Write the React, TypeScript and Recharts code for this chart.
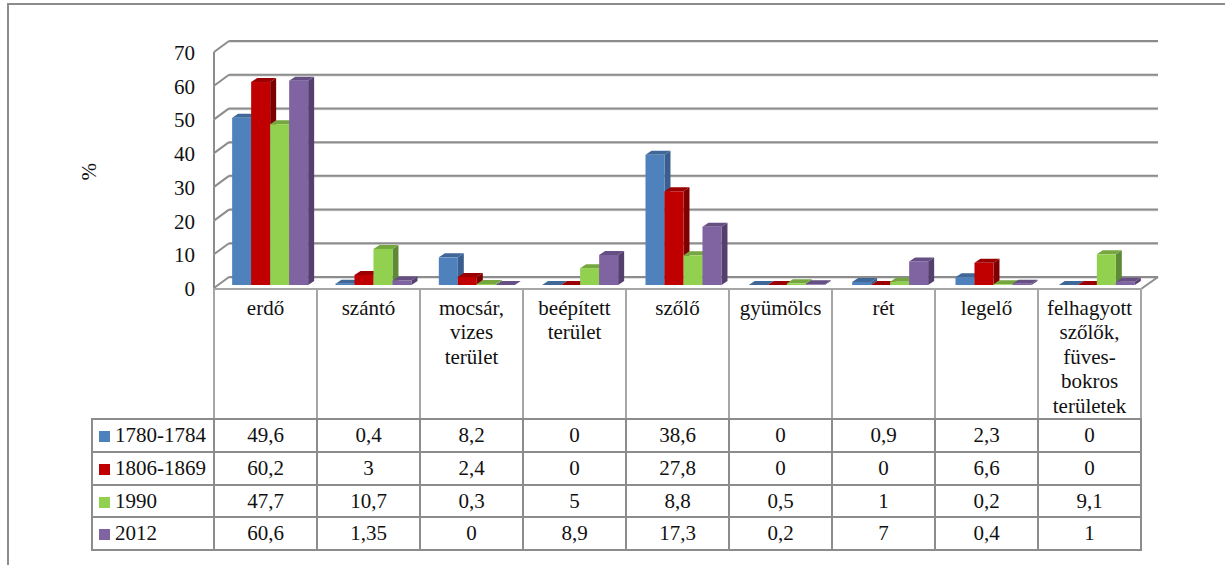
import { BarChart, Bar, XAxis, YAxis, CartesianGrid } from 'recharts';

const FONT = '"Liberation Serif", "Times New Roman", serif';
const GRID_COLOR = '#8c8c8c';
const TEXT_COLOR = '#111';

const categories = [
  'erdő',
  'szántó',
  'mocsár,\nvizes\nterület',
  'beépített\nterület',
  'szőlő',
  'gyümölcs',
  'rét',
  'legelő',
  'felhagyott\nszőlők,\nfüves-\nbokros\nterületek',
];

const seriesNames = ['1780-1784', '1806-1869', '1990', '2012'];

const values1780 = [49.6, 0.4, 8.2, 0, 38.6, 0, 0.9, 2.3, 0];
const values1806 = [60.2, 3, 2.4, 0, 27.8, 0, 0, 6.6, 0];
const values1990 = [47.7, 10.7, 0.3, 5, 8.8, 0.5, 1, 0.2, 9.1];
const values2012 = [60.6, 1.35, 0, 8.9, 17.3, 0.2, 7, 0.4, 1];

const yTicks = [0, 10, 20, 30, 40, 50, 60, 70];

const seriesValues = [values1780, values1806, values1990, values2012];

const seriesColors = [
  { front: '#4f81bd', top: '#3f6797', side: '#3a5f8e' },
  { front: '#c00000', top: '#9a0000', side: '#7c0000' },
  { front: '#92d050', top: '#75a640', side: '#5f8a35' },
  { front: '#8064a2', top: '#664f82', side: '#543f6e' },
];

const data = categories.map((name, i) => ({
  name,
  s0: values1780[i],
  s1: values1806[i],
  s2: values1990[i],
  s3: values2012[i],
}));

const DEPTH_X = 6;
const DEPTH_Y = 4;
const PLOT_TOP = 49;
const PLOT_BOTTOM = 285;
const GRID_STEP = (PLOT_BOTTOM - PLOT_TOP) / 7;

function bar3d(colors: { front: string; top: string; side: string }) {
  return (props: any) => {
    const { x, y, width, height } = props;
    const h = Math.max(height, 0);
    return (
      <g>
        <polygon
          points={`${x + width},${y} ${x + width + DEPTH_X},${y - DEPTH_Y} ${x + width + DEPTH_X},${y + h - DEPTH_Y} ${x + width},${y + h}`}
          fill={colors.side}
        />
        <polygon
          points={`${x},${y} ${x + DEPTH_X},${y - DEPTH_Y} ${x + width + DEPTH_X},${y - DEPTH_Y} ${x + width},${y}`}
          fill={colors.top}
        />
        <rect x={x} y={y} width={width} height={h} fill={colors.front} />
      </g>
    );
  };
}

// back wall line, floor/wall diagonal and the front axis piece for one tick
function gridLine(props: any) {
  const { x1, x2, y1 } = props;
  const isFloor = y1 >= PLOT_BOTTOM - 1;
  const line = { stroke: GRID_COLOR, strokeWidth: 2, fill: 'none' };
  return (
    <g key={`grid-${y1}`}>
      <line x1={x1 + 11} y1={y1 - 7} x2={x2 + 10} y2={y1 - 7} stroke="#d8d8d8" strokeWidth={1.5} />
      <line x1={x1 + 11} y1={y1 - 8} x2={x2 + 10} y2={y1 - 8} {...line} />
      <line x1={x1 - 4} y1={y1 + 3} x2={x1 + 11} y2={y1 - 8} {...line} />
      {!isFloor && <line x1={x1 - 4} y1={y1 + 3} x2={x1 - 4} y2={y1 + 3 + GRID_STEP} {...line} />}
      {isFloor && <line x1={x2 - 7} y1={y1 + 4} x2={x2 + 10} y2={y1 - 8} {...line} />}
    </g>
  );
}

function yTick(props: any) {
  return (
    <text
      x={props.x}
      y={props.y + 11}
      textAnchor="end"
      fontFamily={FONT}
      fontSize={21}
      fill={TEXT_COLOR}
    >
      {props.payload.value}
    </text>
  );
}

const fmt = (v: number) => String(v).replace('.', ',');

function DataTable() {
  const thin = '2px solid #a6a6a6';
  const thick = `2px solid ${GRID_COLOR}`;
  const cell = {
    border: thick,
    padding: 0,
    textAlign: 'center' as const,
    height: 32.75,
    boxSizing: 'border-box' as const,
  };
  return (
    <table
      style={{
        position: 'absolute',
        left: 91,
        top: 288,
        width: 1049,
        tableLayout: 'fixed',
        borderCollapse: 'collapse',
        fontFamily: FONT,
        fontSize: 21,
        lineHeight: '24.4px',
        color: TEXT_COLOR,
      }}
    >
      <colgroup>
        <col style={{ width: 122 }} />
        {categories.map((c) => (
          <col key={c} style={{ width: 103 }} />
        ))}
      </colgroup>
      <tbody>
        <tr style={{ height: 128 }}>
          <td style={{ padding: 0, borderBottom: thick }} />
          {categories.map((c) => (
            <td
              key={c}
              style={{
                borderLeft: thin,
                borderRight: thin,
                borderTop: thin,
                borderBottom: thick,
                padding: '6px 0 0',
                verticalAlign: 'top',
                textAlign: 'center',
                whiteSpace: 'pre-line',
                boxSizing: 'border-box',
              }}
            >
              {c}
            </td>
          ))}
        </tr>
        {seriesNames.map((name, s) => (
          <tr key={name} style={{ height: 32.75 }}>
            <td style={{ ...cell, textAlign: 'left', paddingLeft: 6, whiteSpace: 'nowrap' }}>
              <span
                style={{
                  display: 'inline-block',
                  width: 11,
                  height: 11,
                  marginRight: 5,
                  background: seriesColors[s].front,
                }}
              />
              {name}
            </td>
            {seriesValues[s].map((v, i) => (
              <td key={i} style={cell}>
                {fmt(v)}
              </td>
            ))}
          </tr>
        ))}
      </tbody>
    </table>
  );
}

export default function App() {
  return (
    <div style={{ position: 'fixed', left: 0, top: 0, width: 1225, height: 565, overflow: 'hidden', background: '#fff' }}>
      <div
        style={{
          position: 'absolute',
          left: 7,
          top: 3,
          width: 1240,
          height: 600,
          borderLeft: `2px solid ${GRID_COLOR}`,
          borderTop: `2px solid ${GRID_COLOR}`,
        }}
      />
      <BarChart
        width={1225}
        height={565}
        data={data}
        barGap={0}
        barCategoryGap={14.15}
        margin={{ top: PLOT_TOP, right: 77, bottom: 565 - PLOT_BOTTOM, left: 158 }}
        style={{ position: 'absolute', left: 0, top: 0 }}
      >
        <CartesianGrid vertical={false} horizontal={gridLine} />
        <XAxis dataKey="name" hide />
        <YAxis
          width={60}
          domain={[0, 70]}
          ticks={yTicks}
          axisLine={false}
          tickLine={false}
          tickSize={0}
          tickMargin={23}
          tick={yTick}
          label={{
            value: '%',
            angle: -90,
            position: 'left',
            dx: -64,
            dy: -4,
            style: { fontFamily: FONT, fontSize: 21, fill: TEXT_COLOR },
          }}
        />
        {seriesNames.map((name, s) => (
          <Bar
            key={name}
            dataKey={`s${s}`}
            name={name}
            isAnimationActive={false}
            fill={seriesColors[s].front}
            shape={bar3d(seriesColors[s])}
          />
        ))}
      </BarChart>
      <DataTable />
    </div>
  );
}
